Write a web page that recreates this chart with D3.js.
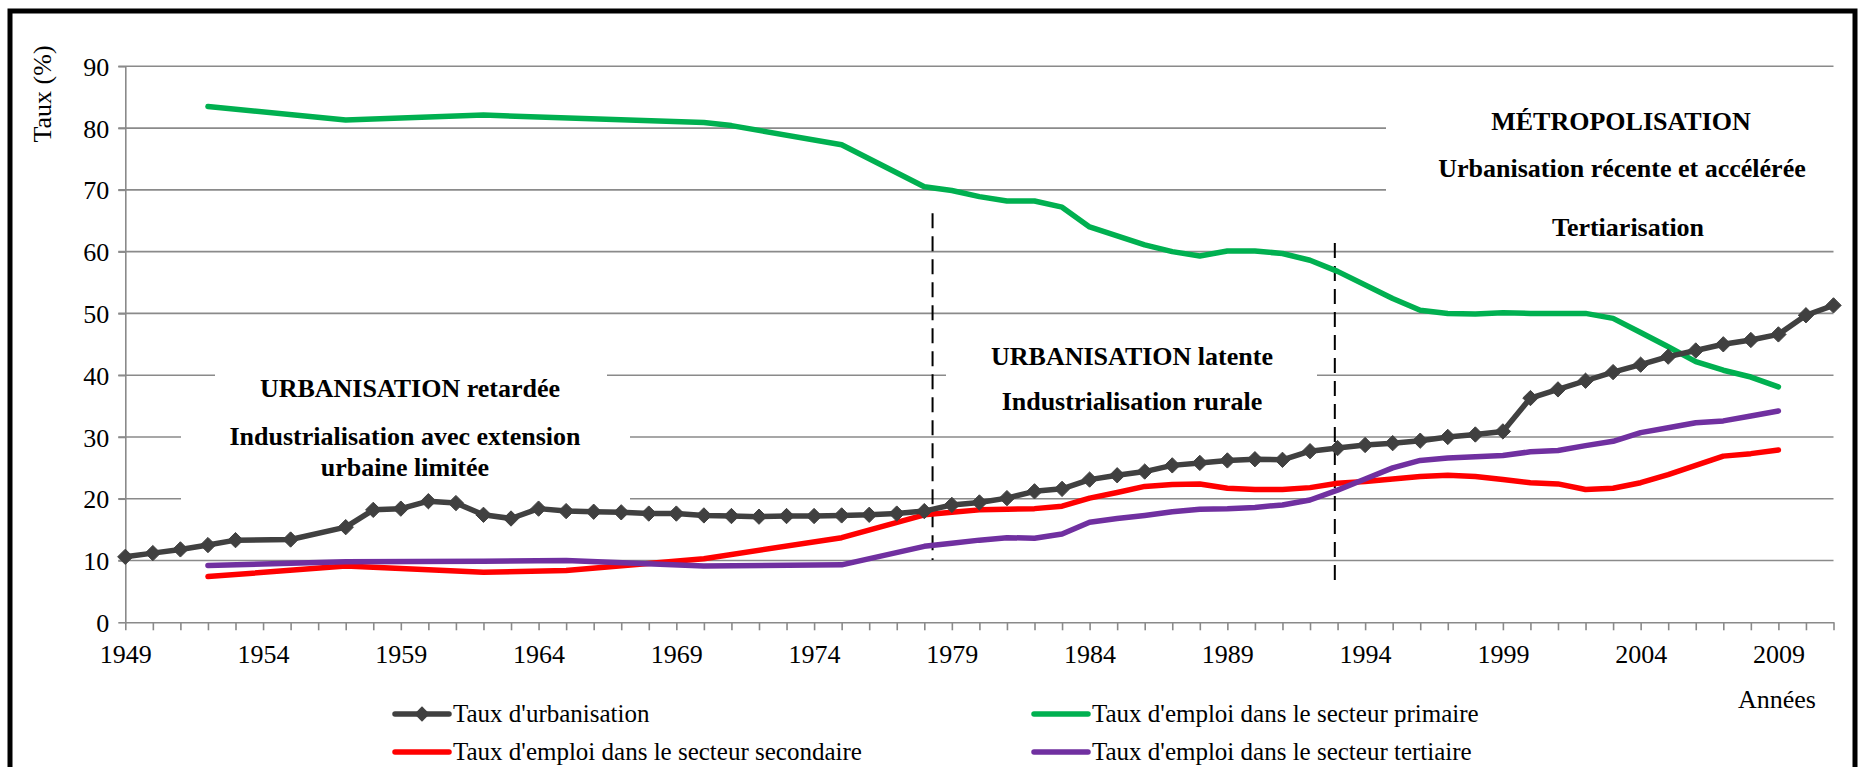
<!DOCTYPE html>
<html>
<head>
<meta charset="utf-8">
<script src="https://cdn.jsdelivr.net/npm/d3@7"></script>
<style>
  body { margin: 0; background: #fff; }
  svg { display: block; font-family: "Liberation Serif", "Times New Roman", serif; }
</style>
</head>
<body>
<svg id="chart"></svg>
<script>
// Taux d'urbanisation (années avec marqueur)
const urbanYears = [1949,1950,1951,1952,1953,1955,1957,1958,1959,1960,1961,1962,1963,1964,1965,1966,1967,1968,1969,1970,
  1971,1972,1973,1974,1975,1976,1977,1978,1979,1980,1981,1982,1983,1984,1985,1986,1987,1988,1989,1990,
  1991,1992,1993,1994,1995,1996,1997,1998,1999,2000,2001,2002,2003,2004,2005,2006,2007,2008,2009,2010,2011];
const urbanRates = [10.6,11.2,11.8,12.5,13.3,13.4,15.4,18.2,18.4,19.6,19.3,17.4,16.8,18.4,18.0,17.9,17.8,17.6,17.6,17.3,
  17.2,17.1,17.2,17.2,17.3,17.4,17.6,18.0,19.0,19.4,20.1,21.2,21.6,23.1,23.8,24.4,25.4,25.8,26.2,26.4,
  26.3,27.7,28.2,28.7,29.0,29.4,30.0,30.4,30.9,36.3,37.7,39.1,40.5,41.7,43.0,44.0,45.0,45.7,46.6,49.7,51.3];

// secteur primaire
const primaryYears = [1952,1957,1962,1970,1971,1975,1978,1979,1980,1981,1982,1983,1984,1986,1987,1988,1989,1990,
  1991,1992,1993,1995,1996,1997,1998,1999,2000,2001,2002,2003,2004,2005,2006,2007,2008,2009];
const primaryRates = [83.5,81.3,82.1,80.9,80.4,77.3,70.5,69.9,68.9,68.2,68.2,67.2,64.0,61.1,60.0,59.3,60.1,60.1,
  59.7,58.6,56.8,52.4,50.5,50.0,49.9,50.1,50.0,50.0,50.0,49.2,46.9,44.6,42.2,40.8,39.7,38.1];

// secteur secondaire
const secondaryYears = [1952,1957,1962,1965,1970,1975,1978,1979,1980,1981,1982,1983,1984,1985,1986,1987,1988,1989,1990,
  1991,1992,1993,1994,1995,1996,1997,1998,1999,2000,2001,2002,2003,2004,2005,2006,2007,2008,2009];
const secondaryRates = [7.4,9.1,8.1,8.4,10.3,13.7,17.4,17.8,18.2,18.3,18.4,18.8,20.1,21.0,22.0,22.3,22.4,21.7,21.5,
  21.5,21.8,22.5,22.8,23.2,23.6,23.8,23.6,23.1,22.6,22.4,21.5,21.7,22.6,23.9,25.4,26.9,27.3,27.9];

// secteur tertiaire
const tertiaryYears = secondaryYears;
const tertiaryRates = [9.2,9.8,9.9,10.0,9.1,9.3,12.3,12.8,13.3,13.7,13.6,14.3,16.2,16.8,17.3,17.9,18.3,18.4,18.6,
  19.0,19.8,21.4,23.2,25.0,26.2,26.6,26.8,27.0,27.6,27.8,28.6,29.3,30.7,31.5,32.3,32.6,33.4,34.2];

const yTicks = [0,10,20,30,40,50,60,70,80,90];
const xLabels = [1949,1954,1959,1964,1969,1974,1979,1984,1989,1994,1999,2004,2009];

// ruptures (année, taux début, taux fin)
const breakYears = [1978.3, 1992.9];
const breakTop = [66.2, 61.4];
const breakBottom = [10.1, 5.6];

const width = 1861, height = 767;
const svg = d3.select("#chart").attr("width", width).attr("height", height);

const x = d3.scaleLinear().domain([1949, 2011]).range([125.3, 1833.5]);
const y = d3.scaleLinear().domain([0, 90]).range([622.3, 66.3]);
const gridCol = "#8a8a8a";

// cadre
svg.append("rect").attr("x", 10).attr("y", 11).attr("width", 1845).attr("height", 800)
  .attr("fill", "none").attr("stroke", "#000").attr("stroke-width", 5);

// grille
svg.append("g").selectAll("line").data(yTicks.filter(d => d > 0)).join("line")
  .attr("x1", x(1949) - 7).attr("x2", x(2011))
  .attr("y1", d => y(d)).attr("y2", d => y(d))
  .attr("stroke", gridCol).attr("stroke-width", 1.6);

// zones de texte (fond blanc)
const boxes = [
  {x0: 215, x1: 607, y0: 355, y1: 412},
  {x0: 181, x1: 630, y0: 420, y1: 506},
  {x0: 946, x1: 1317, y0: 330, y1: 425},
  {x0: 1386, x1: 1845, y0: 95, y1: 240}
];
svg.append("g").selectAll("rect").data(boxes).join("rect")
  .attr("x", d => d.x0).attr("y", d => d.y0)
  .attr("width", d => d.x1 - d.x0).attr("height", d => d.y1 - d.y0)
  .attr("fill", "#fff");

// axes
const yAxis = d3.axisLeft(y).tickValues(yTicks).tickSizeInner(7).tickSizeOuter(0).tickPadding(9);
const gy = svg.append("g").attr("transform", `translate(${x(1949)},0)`).call(yAxis);
const xAxis = d3.axisBottom(x).tickValues(d3.range(1949, 2012)).tickSizeInner(8).tickSizeOuter(0)
  .tickFormat(d => xLabels.includes(d) ? d : "").tickPadding(14);
const gx = svg.append("g").attr("transform", `translate(0,${y(0)})`).call(xAxis);
[gx, gy].forEach(g => {
  g.selectAll("path, line").attr("stroke", gridCol).attr("stroke-width", 1.6);
  g.selectAll("text").attr("font-family", "Liberation Serif").attr("font-size", 26).attr("fill", "#000");
});
gy.selectAll("text").attr("dy", "0.35em");
gx.selectAll("text").attr("dy", "0.71em");

// lignes de rupture
svg.append("g").selectAll("line").data(breakYears).join("line")
  .attr("x1", d => x(d)).attr("x2", d => x(d))
  .attr("y1", (d, i) => y(breakTop[i])).attr("y2", (d, i) => y(breakBottom[i]))
  .attr("stroke", "#000").attr("stroke-width", 2).attr("stroke-dasharray", "15,8");

// séries
const series = [
  {name: "Taux d'emploi dans le secteur primaire", years: primaryYears, vals: primaryRates, color: "#00b050"},
  {name: "Taux d'emploi dans le secteur secondaire", years: secondaryYears, vals: secondaryRates, color: "#ff0000"},
  {name: "Taux d'emploi dans le secteur tertiaire", years: tertiaryYears, vals: tertiaryRates, color: "#7030a0"},
  {name: "Taux d'urbanisation", years: urbanYears, vals: urbanRates, color: "#404040", marker: true}
];
const line = d3.line().x(d => x(d[0])).y(d => y(d[1]));
const diamond = d3.symbol().type(d3.symbolDiamond2).size(150);

series.forEach(s => {
  const pts = s.years.map((yr, i) => [yr, s.vals[i]]);
  svg.append("path").datum(pts).attr("d", line)
    .attr("fill", "none").attr("stroke", s.color).attr("stroke-width", 5.5)
    .attr("stroke-linejoin", "round").attr("stroke-linecap", "round");
  if (s.marker) {
    svg.append("g").selectAll("path").data(pts).join("path")
      .attr("d", diamond)
      .attr("transform", d => `translate(${x(d[0])},${y(d[1])})`)
      .attr("fill", s.color).attr("stroke", s.color).attr("stroke-width", 1);
  }
});

// annotations
const notes = [
  {t: "URBANISATION retardée", cx: 410, by: 397},
  {t: "Industrialisation avec extension", cx: 405, by: 445},
  {t: "urbaine limitée", cx: 405, by: 476},
  {t: "URBANISATION latente", cx: 1132, by: 365},
  {t: "Industrialisation rurale", cx: 1132, by: 410},
  {t: "MÉTROPOLISATION", cx: 1621, by: 130},
  {t: "Urbanisation récente et accélérée", cx: 1622, by: 177},
  {t: "Tertiarisation", cx: 1628, by: 236}
];
svg.append("g").selectAll("text").data(notes).join("text")
  .attr("x", d => d.cx).attr("y", d => d.by)
  .attr("text-anchor", "middle").attr("font-weight", "bold").attr("font-size", 26)
  .text(d => d.t);

// titres d'axes
svg.append("text").attr("transform", "translate(51,94) rotate(-90)")
  .attr("text-anchor", "middle").attr("font-size", 26).text("Taux (%)");
svg.append("text").attr("x", 1777).attr("y", 708)
  .attr("text-anchor", "middle").attr("font-size", 26).text("Années");

// légende
const legendPos = [
  {s: 3, lx: 395, ly: 714},
  {s: 0, lx: 1034, ly: 714},
  {s: 1, lx: 395, ly: 752},
  {s: 2, lx: 1034, ly: 752}
];
const lg = svg.append("g");
legendPos.forEach(p => {
  const s = series[p.s];
  lg.append("line").attr("x1", p.lx).attr("x2", p.lx + 54).attr("y1", p.ly).attr("y2", p.ly)
    .attr("stroke", s.color).attr("stroke-width", 5.5).attr("stroke-linecap", "round");
  if (s.marker) {
    lg.append("path").attr("d", diamond).attr("transform", `translate(${p.lx + 27},${p.ly})`)
      .attr("fill", s.color);
  }
  lg.append("text").attr("x", p.lx + 58).attr("y", p.ly + 8).attr("font-size", 25).text(s.name);
});
</script>
</body>
</html>
